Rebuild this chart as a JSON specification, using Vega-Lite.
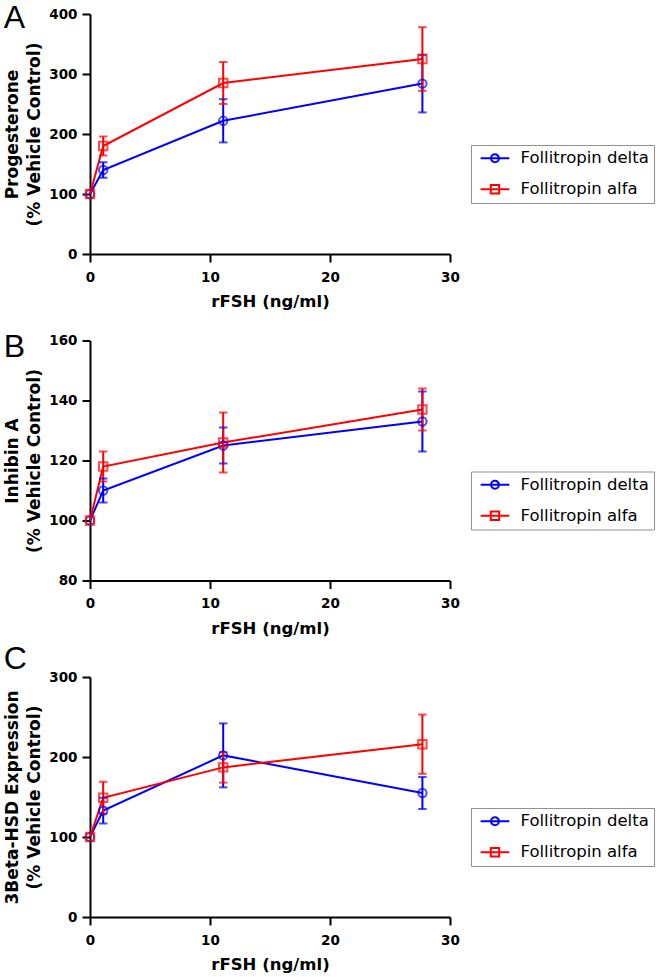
{
  "$schema": "https://vega.github.io/schema/vega-lite/v6.json",
  "padding": {"left": 3, "top": 2, "right": 0, "bottom": 0},
  "config": {
    "view": {"stroke": null},
    "font": "DejaVu Sans",
    "axis": {
      "domainColor": "black", "domainWidth": 2, "tickColor": "black", "tickWidth": 2, "tickSize": 8,
      "grid": false, "labelFont": "DejaVu Sans", "labelFontSize": 13.5, "labelFontWeight": "bold",
      "labelColor": "black", "titleFont": "DejaVu Sans", "titleFontSize": 17, "titleFontWeight": "bold",
      "titleColor": "black", "labelFlush": false, "labelOverlap": false
    },
    "axisX": {"labelPadding": 8, "titlePadding": 10, "titleFontSize": 16.5, "titleLineHeight": 14},
    "axisY": {"labelPadding": 5, "titlePadding": 5, "titleLineHeight": 22},
    "title": {"font": "Liberation Sans", "fontSize": 32, "fontWeight": "normal", "color": "black", "anchor": "start", "frame": "bounds", "baseline": "alphabetic"},
    "legend": {
      "orient": "none", "legendX": 381, "legendY": 131, "padding": 5, "strokeColor": "#909090", "fillColor": "white",
      "labelFont": "DejaVu Sans", "labelFontSize": 16.5, "labelColor": "black", "labelOffset": 28, "rowPadding": 14,
      "symbolSize": 196, "symbolStrokeWidth": 2, "symbolOpacity": 1, "symbolFillColor": "transparent"
    }
  },
  "datasets": {
    "d": [
      {"panel": "A", "series": "Follitropin delta", "dose": 0, "mean": 100, "lo": null, "hi": null},
      {"panel": "A", "series": "Follitropin delta", "dose": 1.1, "mean": 140, "lo": 127, "hi": 153},
      {"panel": "A", "series": "Follitropin delta", "dose": 11.1, "mean": 222, "lo": 186, "hi": 258},
      {"panel": "A", "series": "Follitropin delta", "dose": 27.7, "mean": 284, "lo": 236, "hi": 332},
      {"panel": "A", "series": "Follitropin alfa", "dose": 0, "mean": 100, "lo": null, "hi": null},
      {"panel": "A", "series": "Follitropin alfa", "dose": 1.1, "mean": 180, "lo": 164, "hi": 196},
      {"panel": "A", "series": "Follitropin alfa", "dose": 11.1, "mean": 285, "lo": 250, "hi": 320},
      {"panel": "A", "series": "Follitropin alfa", "dose": 27.7, "mean": 325, "lo": 272, "hi": 378},
      {"panel": "B", "series": "Follitropin delta", "dose": 0, "mean": 100, "lo": null, "hi": null},
      {"panel": "B", "series": "Follitropin delta", "dose": 1.1, "mean": 110, "lo": 106, "hi": 114},
      {"panel": "B", "series": "Follitropin delta", "dose": 11.1, "mean": 125, "lo": 119, "hi": 131},
      {"panel": "B", "series": "Follitropin delta", "dose": 27.7, "mean": 133, "lo": 123, "hi": 143},
      {"panel": "B", "series": "Follitropin alfa", "dose": 0, "mean": 100, "lo": null, "hi": null},
      {"panel": "B", "series": "Follitropin alfa", "dose": 1.1, "mean": 118, "lo": 113, "hi": 123},
      {"panel": "B", "series": "Follitropin alfa", "dose": 11.1, "mean": 126, "lo": 116, "hi": 136},
      {"panel": "B", "series": "Follitropin alfa", "dose": 27.7, "mean": 137, "lo": 130, "hi": 144},
      {"panel": "C", "series": "Follitropin delta", "dose": 0, "mean": 100, "lo": null, "hi": null},
      {"panel": "C", "series": "Follitropin delta", "dose": 1.1, "mean": 133, "lo": 117, "hi": 149},
      {"panel": "C", "series": "Follitropin delta", "dose": 11.1, "mean": 202, "lo": 162, "hi": 242},
      {"panel": "C", "series": "Follitropin delta", "dose": 27.7, "mean": 155, "lo": 135, "hi": 175},
      {"panel": "C", "series": "Follitropin alfa", "dose": 0, "mean": 100, "lo": null, "hi": null},
      {"panel": "C", "series": "Follitropin alfa", "dose": 1.1, "mean": 149, "lo": 129, "hi": 169},
      {"panel": "C", "series": "Follitropin alfa", "dose": 11.1, "mean": 187, "lo": 168, "hi": 206},
      {"panel": "C", "series": "Follitropin alfa", "dose": 27.7, "mean": 216, "lo": 179, "hi": 253}
    ]
  },
  "spacing": 6.5,
  "resolve": {
    "scale": {"stroke": "independent", "shape": "independent", "x": "independent", "y": "independent"},
    "legend": {"stroke": "independent", "shape": "independent"}
  },
  "vconcat": [
    {
      "width": 360, "height": 240,
      "title": {"text": "A", "offset": -28.3},
      "data": {"name": "d"},
      "transform": [{"filter": "datum.panel === 'A'"}],
      "encoding": {
        "x": {"field": "dose", "type": "quantitative", "scale": {"domain": [0, 30], "nice": false}, "axis": {"title": ["rFSH (ng/ml)", ""], "values": [0, 10, 20, 30]}},
        "stroke": {"field": "series", "type": "nominal", "title": null, "scale": {"domain": ["Follitropin delta", "Follitropin alfa"], "range": ["#0000ff", "#ff0000"]}}
      },
      "layer": [
        {"mark": {"type": "line", "strokeWidth": 2}, "encoding": {"y": {"field": "mean", "type": "quantitative", "scale": {"domain": [0, 400], "nice": false}, "axis": {"title": ["Progesterone", "(% Vehicle Control)"], "values": [0, 100, 200, 300, 400]}}}},
        {"transform": [{"filter": "datum.lo != null"}], "mark": {"type": "rule", "strokeWidth": 2}, "encoding": {"y": {"field": "lo", "type": "quantitative"}, "y2": {"field": "hi"}}},
        {"transform": [{"filter": "datum.lo != null"}], "mark": {"type": "tick", "orient": "horizontal", "size": 6.5, "thickness": 0.01, "filled": false, "strokeWidth": 2}, "encoding": {"y": {"field": "lo", "type": "quantitative"}}},
        {"transform": [{"filter": "datum.hi != null"}], "mark": {"type": "tick", "orient": "horizontal", "size": 6.5, "thickness": 0.01, "filled": false, "strokeWidth": 2}, "encoding": {"y": {"field": "hi", "type": "quantitative"}}},
        {"transform": [{"filter": "datum.series === 'Follitropin delta'"}], "mark": {"type": "point", "shape": "circle", "filled": false, "strokeWidth": 2, "size": 70}, "encoding": {"y": {"field": "mean", "type": "quantitative"}}},
        {"transform": [{"filter": "datum.series === 'Follitropin alfa'"}], "mark": {"type": "point", "shape": "square", "filled": false, "strokeWidth": 2, "size": 70}, "encoding": {"y": {"field": "mean", "type": "quantitative"}}},
        {"mark": {"type": "point", "filled": false, "strokeWidth": 2, "size": 196, "opacity": 0}, "encoding": {"y": {"field": "mean", "type": "quantitative"}, "shape": {"field": "series", "type": "nominal", "title": null, "scale": {"domain": ["Follitropin delta", "Follitropin alfa"], "range": ["M-0.52,0H3.584M0.968,0A0.564,0.564,0,1,0,2.096,0A0.564,0.564,0,1,0,0.968,0", "M-0.52,0H3.584M0.932,-0.6H2.132V0.6H0.932Z"]}}}}
      ]
    },
    {
      "width": 360, "height": 240,
      "title": {"text": "B", "offset": -30},
      "data": {"name": "d"},
      "transform": [{"filter": "datum.panel === 'B'"}],
      "encoding": {
        "x": {"field": "dose", "type": "quantitative", "scale": {"domain": [0, 30], "nice": false}, "axis": {"title": "rFSH (ng/ml)", "values": [0, 10, 20, 30]}},
        "stroke": {"field": "series", "type": "nominal", "title": null, "scale": {"domain": ["Follitropin delta", "Follitropin alfa"], "range": ["#0000ff", "#ff0000"]}}
      },
      "layer": [
        {"mark": {"type": "line", "strokeWidth": 2}, "encoding": {"y": {"field": "mean", "type": "quantitative", "scale": {"domain": [80, 160], "nice": false, "zero": false}, "axis": {"title": ["Inhibin A", "(% Vehicle Control)"], "values": [80, 100, 120, 140, 160]}}}},
        {"transform": [{"filter": "datum.lo != null"}], "mark": {"type": "rule", "strokeWidth": 2}, "encoding": {"y": {"field": "lo", "type": "quantitative"}, "y2": {"field": "hi"}}},
        {"transform": [{"filter": "datum.lo != null"}], "mark": {"type": "tick", "orient": "horizontal", "size": 6.5, "thickness": 0.01, "filled": false, "strokeWidth": 2}, "encoding": {"y": {"field": "lo", "type": "quantitative"}}},
        {"transform": [{"filter": "datum.hi != null"}], "mark": {"type": "tick", "orient": "horizontal", "size": 6.5, "thickness": 0.01, "filled": false, "strokeWidth": 2}, "encoding": {"y": {"field": "hi", "type": "quantitative"}}},
        {"transform": [{"filter": "datum.series === 'Follitropin delta'"}], "mark": {"type": "point", "shape": "circle", "filled": false, "strokeWidth": 2, "size": 70}, "encoding": {"y": {"field": "mean", "type": "quantitative"}}},
        {"transform": [{"filter": "datum.series === 'Follitropin alfa'"}], "mark": {"type": "point", "shape": "square", "filled": false, "strokeWidth": 2, "size": 70}, "encoding": {"y": {"field": "mean", "type": "quantitative"}}},
        {"mark": {"type": "point", "filled": false, "strokeWidth": 2, "size": 196, "opacity": 0}, "encoding": {"y": {"field": "mean", "type": "quantitative"}, "shape": {"field": "series", "type": "nominal", "title": null, "scale": {"domain": ["Follitropin delta", "Follitropin alfa"], "range": ["M-0.52,0H3.584M0.968,0A0.564,0.564,0,1,0,2.096,0A0.564,0.564,0,1,0,0.968,0", "M-0.52,0H3.584M0.932,-0.6H2.132V0.6H0.932Z"]}}}}
      ]
    },
    {
      "width": 360, "height": 240,
      "title": {"text": "C", "offset": -6},
      "data": {"name": "d"},
      "transform": [{"filter": "datum.panel === 'C'"}],
      "encoding": {
        "x": {"field": "dose", "type": "quantitative", "scale": {"domain": [0, 30], "nice": false}, "axis": {"title": "rFSH (ng/ml)", "values": [0, 10, 20, 30]}},
        "stroke": {"field": "series", "type": "nominal", "title": null, "scale": {"domain": ["Follitropin delta", "Follitropin alfa"], "range": ["#0000ff", "#ff0000"]}}
      },
      "layer": [
        {"mark": {"type": "line", "strokeWidth": 2}, "encoding": {"y": {"field": "mean", "type": "quantitative", "scale": {"domain": [0, 300], "nice": false}, "axis": {"title": ["3Beta-HSD Expression", "(% Vehicle Control)"], "values": [0, 100, 200, 300]}}}},
        {"transform": [{"filter": "datum.lo != null"}], "mark": {"type": "rule", "strokeWidth": 2}, "encoding": {"y": {"field": "lo", "type": "quantitative"}, "y2": {"field": "hi"}}},
        {"transform": [{"filter": "datum.lo != null"}], "mark": {"type": "tick", "orient": "horizontal", "size": 6.5, "thickness": 0.01, "filled": false, "strokeWidth": 2}, "encoding": {"y": {"field": "lo", "type": "quantitative"}}},
        {"transform": [{"filter": "datum.hi != null"}], "mark": {"type": "tick", "orient": "horizontal", "size": 6.5, "thickness": 0.01, "filled": false, "strokeWidth": 2}, "encoding": {"y": {"field": "hi", "type": "quantitative"}}},
        {"transform": [{"filter": "datum.series === 'Follitropin delta'"}], "mark": {"type": "point", "shape": "circle", "filled": false, "strokeWidth": 2, "size": 70}, "encoding": {"y": {"field": "mean", "type": "quantitative"}}},
        {"transform": [{"filter": "datum.series === 'Follitropin alfa'"}], "mark": {"type": "point", "shape": "square", "filled": false, "strokeWidth": 2, "size": 70}, "encoding": {"y": {"field": "mean", "type": "quantitative"}}},
        {"mark": {"type": "point", "filled": false, "strokeWidth": 2, "size": 196, "opacity": 0}, "encoding": {"y": {"field": "mean", "type": "quantitative"}, "shape": {"field": "series", "type": "nominal", "title": null, "scale": {"domain": ["Follitropin delta", "Follitropin alfa"], "range": ["M-0.52,0H3.584M0.968,0A0.564,0.564,0,1,0,2.096,0A0.564,0.564,0,1,0,0.968,0", "M-0.52,0H3.584M0.932,-0.6H2.132V0.6H0.932Z"]}}}}
      ]
    }
  ]
}
